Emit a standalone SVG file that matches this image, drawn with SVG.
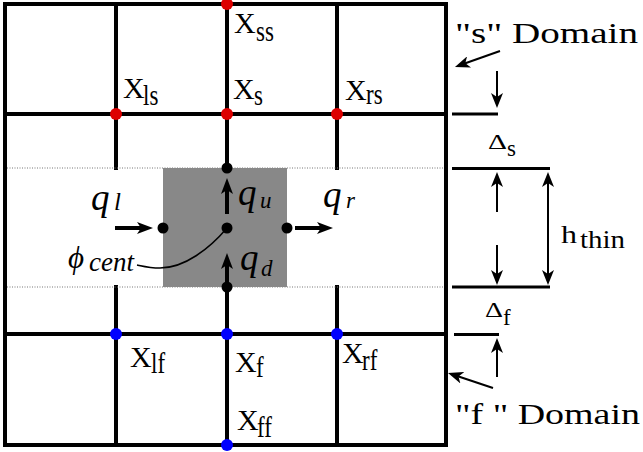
<svg xmlns="http://www.w3.org/2000/svg" width="643" height="452" viewBox="0 0 643 452" font-family="Liberation Serif, Times New Roman, serif">
<style>
.grid{stroke:#000;stroke-width:4;fill:none;stroke-linecap:square}
.dotl{stroke:#777;stroke-width:1;stroke-dasharray:1 1.5}
.t{fill:#000}
.i{font-style:italic}
.fx{font-size:30px}
.fs{font-size:23px}
.fq{font-size:37px}
.fqs{font-size:23px}
.fd{font-size:30px}
.thick{stroke:#000;stroke-width:4;fill:none}
.thin{stroke:#000;stroke-width:2;fill:none}
.tick{stroke:#000;stroke-width:3}
.red{fill:#dd0000}
.blue{fill:#0000ff}
.blk{fill:#000}
</style>
<defs>
<marker id="ah" viewBox="-16 -6 16 12" refX="-8" refY="0" markerWidth="16" markerHeight="12" markerUnits="userSpaceOnUse" orient="auto"><path d="M0,0 L-16,-6 L-12,0 L-16,6 Z" fill="#000"/></marker>
<marker id="as" viewBox="-15 -6 15 12" refX="-8" refY="0" markerWidth="15" markerHeight="12" markerUnits="userSpaceOnUse" orient="auto-start-reverse"><path d="M0,0 L-15,-6 L-11,0 L-15,6 Z" fill="#000"/></marker>
</defs>
<rect width="643" height="452" fill="#fff"/>
<g id="grid">
<rect class="grid" x="5" y="4" width="441" height="441"/>
<line class="grid" x1="5" y1="114" x2="446" y2="114"/>
<line class="grid" x1="5" y1="334" x2="446" y2="334"/>
<line class="grid" x1="116" y1="4" x2="116" y2="168"/>
<line class="grid" x1="227" y1="4" x2="227" y2="168"/>
<line class="grid" x1="337" y1="4" x2="337" y2="168"/>
<line class="grid" x1="116" y1="287" x2="116" y2="445"/>
<line class="grid" x1="227" y1="287" x2="227" y2="445"/>
<line class="grid" x1="337" y1="287" x2="337" y2="445"/>
<line class="dotl" x1="7" y1="168" x2="444" y2="168"/>
<line class="dotl" x1="7" y1="287" x2="444" y2="287"/>
</g>
<g id="cell">
<rect x="163" y="168" width="124" height="119" fill="#888"/>
</g>
<g id="connectors">
<line class="thick" x1="115" y1="228" x2="145" y2="228" marker-end="url(#ah)"/>
<line class="thick" x1="295" y1="228" x2="325" y2="228" marker-end="url(#ah)"/>
<line class="thick" x1="227" y1="214" x2="227" y2="186" marker-end="url(#ah)"/>
<line class="thick" x1="227" y1="287" x2="227" y2="261" marker-end="url(#ah)"/>
<path class="thin" style="stroke-width:1.5" d="M227,228 C210,248 185,268 160,268 C150,268 142,266 137,265"/>
<line class="thin" x1="500" y1="51" x2="462.5" y2="64.3" marker-end="url(#as)"/>
<line class="thin" x1="497" y1="71" x2="497" y2="100" marker-end="url(#as)"/>
<line class="tick" x1="452" y1="114" x2="498" y2="114"/>
<line class="tick" x1="452" y1="168.5" x2="550" y2="168.5"/>
<line class="thin" x1="497" y1="212" x2="497" y2="180" marker-end="url(#as)"/>
<line class="thin" x1="497" y1="245" x2="497" y2="277" marker-end="url(#as)"/>
<line class="thin" x1="548" y1="180" x2="548" y2="277" marker-start="url(#as)" marker-end="url(#as)"/>
<line class="tick" x1="452" y1="287" x2="550" y2="287"/>
<line class="tick" x1="454" y1="334.5" x2="499" y2="334.5"/>
<line class="thin" x1="497" y1="377" x2="497" y2="346" marker-end="url(#as)"/>
<line class="thin" x1="493" y1="388" x2="455.6" y2="375.5" marker-end="url(#as)"/>
</g>
<g id="node-xss"><circle class="red" cx="227" cy="4" r="6"/><text class="t fx" x="234" y="33">X</text><text class="t fs" transform="translate(256,41) scale(1,1.3)">ss</text></g>
<g id="node-xls"><circle class="red" cx="116" cy="114" r="6"/><text class="t fx" x="123" y="98">X</text><text class="t fs" transform="translate(143,105) scale(1,1.3)">ls</text></g>
<g id="node-xs"><circle class="red" cx="227" cy="114" r="6"/><text class="t fx" x="233" y="99">X</text><text class="t fs" transform="translate(254,105) scale(1,1.3)">s</text></g>
<g id="node-xrs"><circle class="red" cx="337" cy="114" r="6"/><text class="t fx" x="345" y="100">X</text><text class="t fs" transform="translate(366,104) scale(1,1.3)">rs</text></g>
<g id="node-xlf"><circle class="blue" cx="116" cy="334" r="6"/><text class="t fx" x="130" y="367">X</text><text class="t fs" transform="translate(151,373) scale(1,1.3)">lf</text></g>
<g id="node-xf"><circle class="blue" cx="227" cy="334" r="6"/><text class="t fx" x="235" y="372">X</text><text class="t fs" transform="translate(256,377) scale(1,1.3)">f</text></g>
<g id="node-xrf"><circle class="blue" cx="337" cy="334" r="6"/><text class="t fx" x="342" y="363">X</text><text class="t fs" transform="translate(362,370) scale(1,1.3)">rf</text></g>
<g id="node-xff"><circle class="blue" cx="227" cy="445" r="6"/><text class="t fx" x="237" y="430">X</text><text class="t fs" transform="translate(257,437) scale(1,1.3)">ff</text></g>
<g id="node-center"><circle class="blk" cx="227" cy="228" r="5.5"/><text class="t i" x="68" y="268" style="font-size:31px">ϕ</text><text class="t i" x="89" y="271" style="font-size:27px">cent</text></g>
<g id="node-left"><circle class="blk" cx="163" cy="228" r="5.5"/><text class="t i fq" x="91" y="210">q</text><text class="t i" x="114" y="210" style="font-size:25px">l</text></g>
<g id="node-right"><circle class="blk" cx="287" cy="228" r="5.5"/><text class="t i fq" x="323" y="207">q</text><text class="t i fqs" x="346" y="208">r</text></g>
<g id="node-top"><circle class="blk" cx="227" cy="168" r="5.5"/><text class="t i fq" x="238" y="205">q</text><text class="t i fqs" x="260" y="208">u</text></g>
<g id="node-bottom"><circle class="blk" cx="227" cy="287" r="5.5"/><text class="t i fq" x="240" y="270">q</text><text class="t i fqs" x="261" y="276">d</text></g>
<g id="label-s-domain"><text class="t fd" x="455" y="43" textLength="183" lengthAdjust="spacingAndGlyphs">"s" Domain</text></g>
<g id="label-f-domain"><text class="t fd" x="455" y="424" textLength="185" lengthAdjust="spacingAndGlyphs">"f " Domain</text></g>
<g id="label-delta-s"><text class="t" x="488" y="149" style="font-size:21px" textLength="19" lengthAdjust="spacingAndGlyphs">Δ</text><text class="t fs" x="507" y="156">s</text></g>
<g id="label-delta-f"><text class="t" x="485" y="317" style="font-size:21px" textLength="18" lengthAdjust="spacingAndGlyphs">Δ</text><text class="t fs" x="503" y="325">f</text></g>
<g id="label-hthin"><text class="t" x="561" y="243" style="font-size:25px" textLength="16" lengthAdjust="spacingAndGlyphs">h</text><text class="t" x="580" y="248" style="font-size:25px" textLength="45" lengthAdjust="spacingAndGlyphs">thin</text></g>
</svg>
